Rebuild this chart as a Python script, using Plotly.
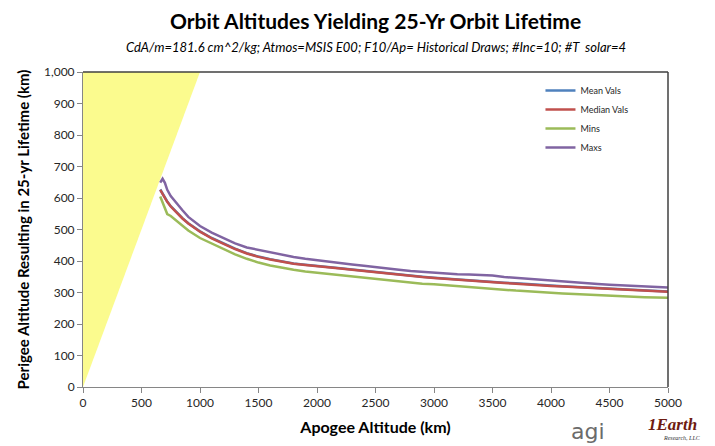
import plotly.graph_objects as go

# Apogee altitude grid (km)
apogee_km = [660, 680, 700, 720, 750, 800, 850, 900, 1000, 1100, 1200, 1300, 1400, 1500,
             1600, 1700, 1800, 1900, 2000, 2100, 2200, 2300, 2400, 2500, 2600, 2700, 2800,
             2900, 3000, 3100, 3200, 3300, 3400, 3500, 3600, 3700, 3800, 3900, 4000, 4100,
             4200, 4300, 4400, 4500, 4600, 4700, 4800, 4900, 5000]

# Perigee altitude giving a 25-yr lifetime (km)
mean_vals = [627, 613, 601, 589, 574, 554, 536, 520, 494, 473, 455, 439, 425, 414,
             406, 398, 392, 388, 385, 381, 377, 373, 369, 364, 360, 357, 353,
             350, 347, 344, 341, 338, 336, 334, 331, 329, 326, 324, 322, 320,
             318, 316, 314, 312, 310, 308, 306, 305, 303]
median_vals = [626, 612, 600, 588, 573, 553, 535, 519, 493, 472, 454, 438, 424, 413,
               405, 397, 391, 387, 384, 380, 376, 372, 368, 363, 359, 356, 352,
               349, 346, 343, 340, 337, 335, 333, 330, 328, 325, 323, 321, 319,
               317, 315, 313, 311, 309, 307, 305, 304, 302]
min_vals = [605, 585, 565, 549, 543, 528, 512, 497, 473, 455, 437, 421, 407, 395,
            386, 378, 372, 367, 363, 359, 356, 351, 346, 342, 338, 335, 331,
            328, 326, 323, 320, 316, 313, 312, 309, 306, 304, 301, 299, 297,
            295, 293, 291, 289, 287, 286, 285, 284, 283]
max_vals = [649, 661, 648, 626, 606, 582, 561, 540, 511, 490, 472, 456, 443, 435,
            428, 420, 413, 407, 402, 398, 393, 389, 385, 380, 376, 372, 368,
            365, 364, 361, 358, 357, 356, 354, 349, 346, 343, 340, 337, 335,
            332, 330, 327, 325, 323, 321, 319, 318, 316]

# Region where perigee would exceed apogee (perigee = apogee boundary)
invalid_x = [0, 1000, 0, 0]
invalid_y = [0, 1000, 1000, 0]

x_ticks = [0, 500, 1000, 1500, 2000, 2500, 3000, 3500, 4000, 4500, 5000]
y_ticks = [0, 100, 200, 300, 400, 500, 600, 700, 800, 900, 1000]

FONT = "Lato"

fig = go.Figure()

fig.add_trace(go.Scatter(x=invalid_x, y=invalid_y, mode="lines", fill="toself",
                         fillcolor="#FBFB8E", line=dict(width=0),
                         showlegend=False, hoverinfo="skip"))

series = [
    ("Mean Vals", mean_vals, "#4F81BD"),
    ("Median Vals", median_vals, "#C0504D"),
    ("Mins", min_vals, "#9BBB59"),
    ("Maxs", max_vals, "#8064A2"),
]
for name, vals, color in series:
    fig.add_trace(go.Scatter(x=apogee_km, y=vals, mode="lines", name=name,
                             line=dict(color=color, width=2.5)))

fig.update_layout(
    width=715, height=446,
    margin=dict(l=83, r=47, t=72, b=56),
    paper_bgcolor="white", plot_bgcolor="white",
    font=dict(family=FONT, color="#000000"),
    showlegend=True,
    legend=dict(x=0.782, y=0.987, xanchor="left", yanchor="top",
                bgcolor="rgba(0,0,0,0)", font=dict(size=9, color="#262626"),
                tracegroupgap=0),
    xaxis=dict(range=[0, 5000], tickvals=x_ticks, ticktext=[str(v) for v in x_ticks],
               showgrid=False, zeroline=False, showline=True, linecolor="#868686",
               linewidth=1, ticks="outside", ticklen=5, tickcolor="#868686",
               tickfont=dict(size=12, color="#262626", family=FONT),
               title=dict(text="<b>Apogee Altitude (km)</b>", font=dict(size=16, family=FONT),
                          standoff=12)),
    yaxis=dict(range=[0, 1000], tickvals=y_ticks, ticktext=[f"{v:,}" for v in y_ticks],
               showgrid=False, zeroline=False, showline=True, linecolor="#868686",
               linewidth=1, ticks="outside", ticklen=5, tickcolor="#868686",
               tickfont=dict(size=12, color="#262626", family=FONT),
               title=dict(text="<b>Perigee Altitude Resulting in 25-yr Lifetime (km)</b>",
                          font=dict(size=15, family=FONT), standoff=10)),
)

# dark frame on top and right of plot area
fig.add_shape(type="line", xref="x domain", yref="y domain", x0=0, x1=1, y0=1, y1=1,
              line=dict(color="#404040", width=1.5))
fig.add_shape(type="line", xref="x domain", yref="y domain", x0=1, x1=1, y0=0, y1=1,
              line=dict(color="#404040", width=1.5))

fig.add_annotation(text="<b>Orbit Altitudes Yielding 25-Yr Orbit Lifetime</b>",
                   xref="paper", yref="paper", x=0.5, y=1, yshift=52, xanchor="center",
                   yanchor="middle", showarrow=False,
                   font=dict(size=21, family=FONT, color="#000000"))
fig.add_annotation(text="<i>CdA/m=181.6 cm^2/kg; Atmos=MSIS E00; F10/Ap= Historical Draws; #Inc=10; #T  solar=4</i>",
                   xref="paper", yref="paper", x=0.5, y=1, yshift=25, xanchor="center",
                   yanchor="middle", showarrow=False,
                   font=dict(size=13, family=FONT, color="#000000"))

# company marks in lower right corner
fig.add_annotation(text="agi", xref="paper", yref="paper", x=1.0, y=0, yshift=-44,
                   xshift=-80, xanchor="center", yanchor="middle", showarrow=False,
                   font=dict(size=22, family="DejaVu Sans", color="#6B6B6B"))
fig.add_annotation(text="<b><i>1Earth</i></b>", xref="paper", yref="paper", x=1.0, y=0,
                   yshift=-37, xshift=4, xanchor="center", yanchor="middle", showarrow=False,
                   font=dict(size=17, family="Liberation Serif", color="#6E1B10"))
fig.add_annotation(text="<i>Research, LLC</i>", xref="paper", yref="paper", x=1.0, y=0,
                   yshift=-51, xshift=14, xanchor="center", yanchor="middle", showarrow=False,
                   font=dict(size=6, family="Liberation Serif", color="#333333"))

fig.write_html("out.html")
